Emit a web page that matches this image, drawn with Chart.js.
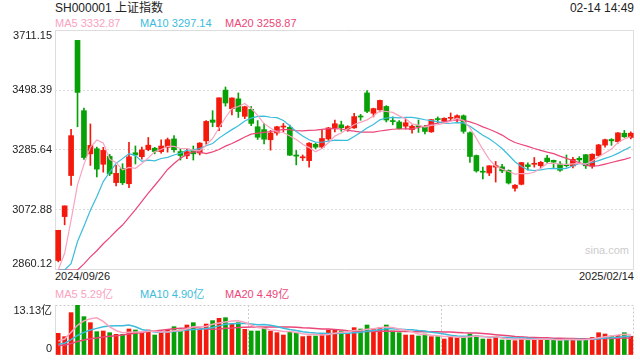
<!DOCTYPE html>
<html>
<head>
<meta charset="utf-8">
<script src="https://cdn.jsdelivr.net/npm/chart.js@4.4.1/dist/chart.umd.min.js"></script>
<style>
  body { margin:0; width:640px; height:360px; background:#fff; position:relative; overflow:hidden;
         font-family:"Liberation Sans", Arial, "Noto Sans CJK SC", sans-serif; color:#333; }
  .txt { position:absolute; white-space:nowrap; line-height:1; }
  #title { left:55px; top:2px; font-size:12px; color:#222; }
  #time { right:6px; top:2px; font-size:12px; color:#222; }
  .ma { font-size:11px; }
  .d { font-size:11px; top:271px; color:#222; }
  #sina { left:585px; top:245px; font-size:11px; color:#ccc; }
  #wrapMain { position:absolute; left:0; top:0; }
  #wrapVol { position:absolute; left:0; top:300px; }
</style>
</head>
<body>
<div class="txt" id="title">SH000001 上证指数</div>
<div class="txt" id="time">02-14 14:49</div>
<div class="txt ma" style="left:55px;top:18px;color:#f9a3bf">MA5 3332.87</div>
<div class="txt ma" style="left:140px;top:18px;color:#3bbcdc">MA10 3297.14</div>
<div class="txt ma" style="left:225px;top:18px;color:#ec4679">MA20 3258.87</div>
<div class="txt ma" style="left:55px;top:289px;color:#f9a3bf">MA5 5.29亿</div>
<div class="txt ma" style="left:140px;top:289px;color:#3bbcdc">MA10 4.90亿</div>
<div class="txt ma" style="left:225px;top:289px;color:#ec4679">MA20 4.49亿</div>
<div class="txt d" id="dFirst" style="left:55px"></div>
<div class="txt d" id="dLast" style="right:6px"></div>
<div class="txt" id="sina">sina.com</div>
<div id="wrapMain"><canvas id="kline" width="640" height="280"></canvas></div>
<div id="wrapVol"><canvas id="vol" width="640" height="60"></canvas></div>
<script>
// daily candles, 2024/09/26 - 2025/02/14
const dates = ['2024/09/26','2024/09/27','2024/09/30',
  '2024/10/08','2024/10/09','2024/10/10','2024/10/11','2024/10/14','2024/10/15','2024/10/16','2024/10/17','2024/10/18',
  '2024/10/21','2024/10/22','2024/10/23','2024/10/24','2024/10/25','2024/10/28','2024/10/29','2024/10/30','2024/10/31',
  '2024/11/01','2024/11/04','2024/11/05','2024/11/06','2024/11/07','2024/11/08','2024/11/11','2024/11/12','2024/11/13',
  '2024/11/14','2024/11/15','2024/11/18','2024/11/19','2024/11/20','2024/11/21','2024/11/22','2024/11/25','2024/11/26',
  '2024/11/27','2024/11/28','2024/11/29','2024/12/02','2024/12/03','2024/12/04','2024/12/05','2024/12/06','2024/12/09',
  '2024/12/10','2024/12/11','2024/12/12','2024/12/13','2024/12/16','2024/12/17','2024/12/18','2024/12/19','2024/12/20',
  '2024/12/23','2024/12/24','2024/12/25','2024/12/26','2024/12/27','2024/12/30','2024/12/31','2025/01/02','2025/01/03',
  '2025/01/06','2025/01/07','2025/01/08','2025/01/09','2025/01/10','2025/01/13','2025/01/14','2025/01/15','2025/01/16',
  '2025/01/17','2025/01/20','2025/01/21','2025/01/22','2025/01/23','2025/01/24','2025/01/27','2025/02/05','2025/02/06',
  '2025/02/07','2025/02/10','2025/02/11','2025/02/12','2025/02/13','2025/02/14'];

const open = [2893.78,3049.57,3195,3674.4,3425,3272,3290,3235,3263,3170,3220,3166,
  3276,3262,3287,3292,3280,3295,3325,3280,3265,3283,3275,3318,3392,3368,3498,3432,3467,3405,
  3430,3368,3358,3322,3346,3367,3366,3268,3258,3248,3306,3296,3325,3365,3375,3360,3364,3405,
  3488,3416,3428,3440,3390,3385,3370,3358,3372,3367,3350,3395,3388,3398,3396,3407,3347,3266,
  3210,3204,3225,3226,3213,3150,3164,3233,3235,3230,3257,3249,3236,3231,3229,3256,3269,3228,
  3266,3303,3323,3315,3345,3330];
const high = [3000.95,3087.53,3358.59,3674.4,3434,3378,3296,3295,3270,3231,3237,3313,
  3300,3296,3330,3295,3322,3328,3337,3290,3290,3300,3312,3390,3425,3471,3509,3471,3488,3441,
  3440,3390,3380,3355,3370,3380,3374,3284,3268,3312,3310,3357,3366,3392,3388,3372,3416,3412,
  3496,3434,3463,3443,3403,3390,3396,3375,3392,3373,3394,3403,3400,3417,3410,3410,3350,3268,
  3225,3230,3245,3235,3215,3163,3242,3240,3259,3245,3267,3250,3245,3268,3260,3262,3270,3272,
  3306,3324,3326,3347,3355,3350];
const low = [2889.04,3020.28,3160,3368,3252,3231,3190,3207,3195,3158,3163,3152,
  3236,3253,3283,3272,3274,3278,3278,3250,3255,3250,3268,3306,3368,3354,3441,3410,3401,3397,
  3372,3323,3307,3285,3338,3350,3266,3233,3248,3225,3290,3290,3320,3350,3352,3352,3362,3391,
  3418,3403,3421,3385,3375,3360,3360,3345,3348,3343,3348,3382,3385,3389,3385,3345,3242,3207,
  3183,3195,3172,3205,3165,3140,3162,3215,3225,3222,3240,3220,3210,3225,3222,3240,3220,3221,
  3263,3296,3302,3310,3330,3325];
const close = [3000.95,3087.53,3336.5,3489.78,3258.86,3301.93,3217.74,3284.32,3201.29,3202.95,3169.38,3261.56,
  3268.11,3285.87,3302.8,3280.26,3299.7,3322.2,3286.41,3266.24,3279.82,3272.01,3310.21,3386.99,3383.81,3470.66,
  3452.3,3470.07,3421.97,3439.28,3379.84,3330.73,3323.85,3346.01,3367.99,3370.4,3267.19,3263.76,3259.76,3309.78,
  3295.7,3326.46,3363.98,3378.81,3364.65,3368.86,3404.08,3402.53,3422.66,3432.49,3461.5,3391.88,3386.33,3361.49,
  3382.21,3370.03,3368.07,3351.26,3393.35,3393.53,3398.08,3400.14,3407.33,3351.76,3262.56,3211.43,3206.92,3229.64,
  3230.17,3211.39,3168.52,3160.76,3240.94,3227.12,3236.03,3241.82,3244.38,3242.62,3213.62,3230.16,3252.63,3250.6,
  3229.49,3270.66,3303.67,3322.17,3318.06,3346.39,3332.48,3345.25];
// volume, 亿
const vol = [5.69,4.82,11.12,13.13,10.07,8.49,6.13,6.30,5.86,5.43,5.43,6.83,6.57,5.86,6.57,5.25,5.86,6.74,7.44,6.57,
  7.88,8.49,6.74,8.14,9.02,9.63,9.80,8.14,8.49,6.74,6.30,6.30,7.26,6.30,5.86,5.25,6.13,5.86,4.82,4.99,4.99,
  5.51,6.57,6.57,6.30,5.69,7.18,6.83,7.88,6.83,7.18,7.88,6.30,5.86,5.25,5.25,4.99,5.51,4.82,4.82,4.20,
  4.82,4.55,4.82,5.51,5.08,4.20,4.20,4.82,3.94,3.94,3.76,4.72,3.94,4.20,3.94,4.20,3.94,3.76,4.40,4.00,
  4.00,4.10,4.60,5.85,5.51,4.99,5.16,5.86,4.93];

// sessions before the window, only used for the moving averages
const priorClose = [2837.43,2823.11,2842.21,2811.04,2802.98,2784.28,2788.22,2765.81,2736.49,2744.19,
  2721.80,2717.12,2704.09,2717.28,2736.02,2736.81,2748.92,2863.13,2896.31];
const priorVol = [2.4,2.3,2.6,2.2,2.1,2.1,2.0,1.9,2.0,1.9,2.0,1.9,1.9,2.0,2.1,2.0,2.2,4.0,4.3];

const priceTicks = [2860.12, 3072.88, 3285.64, 3498.39, 3711.15];
const volTicks = [0, 13.13];

const UP = '#f3190c', DOWN = '#07a107';
const C5 = '#f9a3bf', C10 = '#3bbcdc', C20 = '#ec4679';

document.getElementById('dFirst').textContent = dates[0];
document.getElementById('dLast').textContent = dates[dates.length - 1];

Chart.defaults.font.family = '"Liberation Sans", Arial, "Noto Sans CJK SC", sans-serif';
Chart.defaults.color = '#333';

function movingAvg(prior, arr, n) {
    const all = prior.concat(arr);
    return arr.map(function (_, i) {
        const end = prior.length + i + 1;
        let sum = 0;
        for (let k = end - n; k < end; k++) sum += all[k];
        return sum / n;
    });
}

const yMin = priceTicks[0], yMax = priceTicks[priceTicks.length - 1];
// values under the axis floor are drawn along the bottom edge
const clampLow = v => Math.max(v, yMin);

const ma5 = movingAvg(priorClose, close, 5).map(clampLow);
const ma10 = movingAvg(priorClose, close, 10).map(clampLow);
const ma20 = movingAvg(priorClose, close, 20).map(clampLow);
const vma5 = movingAvg(priorVol, vol, 5);
const vma10 = movingAvg(priorVol, vol, 10);
const vma20 = movingAvg(priorVol, vol, 20);

const colors = close.map((c, i) => c >= open[i] ? UP : DOWN);
const bodies = close.map((c, i) => [Math.min(open[i], c), Math.max(open[i], c)]);
const wicks = low.map((l, i) => [l, high[i]]);

// frame round the plot area
const framePlugin = {
    id: 'frame',
    beforeDatasetsDraw(chart, args, opts) {
        const a = chart.chartArea, ctx = chart.ctx;
        ctx.save();
        ctx.lineWidth = 1;
        ctx.strokeStyle = opts.color;
        ctx.setLineDash(opts.dash || []);
        ctx.beginPath();
        ctx.moveTo(a.left + 0.5, a.top + 0.5);
        ctx.lineTo(a.right - 0.5, a.top + 0.5);
        ctx.lineTo(a.right - 0.5, a.bottom - 0.5);
        ctx.lineTo(a.left + 0.5, a.bottom - 0.5);
        ctx.stroke();
        ctx.setLineDash([]);
        ctx.strokeStyle = opts.leftColor || opts.color;
        ctx.beginPath();
        ctx.moveTo(a.left + 0.5, a.top);
        ctx.lineTo(a.left + 0.5, a.bottom);
        ctx.stroke();
        // split lines every 30 sessions
        if (opts.splits) {
            const xs = chart.scales.x;
            ctx.setLineDash([2, 2]);
            ctx.strokeStyle = opts.color;
            opts.splits.forEach(function (s) {
                const x = Math.round((xs.getPixelForValue(s - 1) + xs.getPixelForValue(s)) / 2) + 0.5;
                ctx.beginPath();
                ctx.moveTo(x, a.top);
                ctx.lineTo(x, a.bottom);
                ctx.stroke();
            });
        }
        ctx.restore();
    }
};

function maLine(label, data, color, w) {
    return { type: 'line', label: label, data: data, borderColor: color, borderWidth: w,
             pointRadius: 0, tension: 0, order: 0 };
}

function yAxis(min, max, tickVals, fmt) {
    return {
        min: min, max: max,
        afterBuildTicks: s => { s.ticks = tickVals.map(v => ({ value: v })); },
        afterFit: s => { s.width = 55; s.paddingTop = 0; s.paddingBottom = 0; },
        ticks: {
            padding: 3, color: '#222', font: { size: 11, lineHeight: 1.05 },
            // push the edge labels inside the frame
            callback: function (v) {
                if (v === min) return [fmt(v), ''];
                if (v === max) return ['', fmt(v)];
                return fmt(v);
            }
        },
        grid: { drawTicks: false, color: c => (c.tick.value === min || c.tick.value === max) ? 'rgba(0,0,0,0)' : '#ddd' },
        border: { display: false, dash: [2, 2] }
    };
}

const common = {
    responsive: false, animation: false, events: [],
    plugins: { legend: { display: false }, tooltip: { enabled: false } }
};

new Chart(document.getElementById('kline'), {
    type: 'bar',
    data: {
        labels: dates,
        datasets: [
            maLine('MA5', ma5, C5, 1.2),
            maLine('MA10', ma10, C10, 1.2),
            maLine('MA20', ma20, C20, 1.2),
            { label: 'body', data: bodies, backgroundColor: colors, barThickness: 5, grouped: false, minBarLength: 1, order: 1 },
            { label: 'wick', data: wicks, backgroundColor: colors, barThickness: 1, grouped: false, order: 2 }
        ]
    },
    options: Object.assign({}, common, {
        layout: { padding: { top: 30, right: 6, bottom: 10, left: 0 } },
        plugins: Object.assign({}, common.plugins, { frame: { color: '#ddd' } }),
        scales: {
            x: { display: false },
            y: yAxis(yMin, yMax, priceTicks, v => v.toFixed(2))
        }
    }),
    plugins: [framePlugin]
});

new Chart(document.getElementById('vol'), {
    type: 'bar',
    data: {
        labels: dates,
        datasets: [
            maLine('MA5', vma5, C5, 1.5),
            maLine('MA10', vma10, C10, 1.5),
            maLine('MA20', vma20, C20, 1.5),
            { label: 'vol', data: vol, backgroundColor: colors, barThickness: 4, order: 1 }
        ]
    },
    options: Object.assign({}, common, {
        layout: { padding: { top: 5, right: 6, bottom: 5, left: 0 } },
        plugins: Object.assign({}, common.plugins, { frame: { color: '#ccc', dash: [2, 2], leftColor: '#ddd', splits: [30, 60] } }),
        scales: {
            x: { display: false },
            y: yAxis(volTicks[0], volTicks[1], volTicks, v => v === 0 ? '0' : v.toFixed(2) + '亿')
        }
    }),
    plugins: [framePlugin]
});
</script>
</body>
</html>
